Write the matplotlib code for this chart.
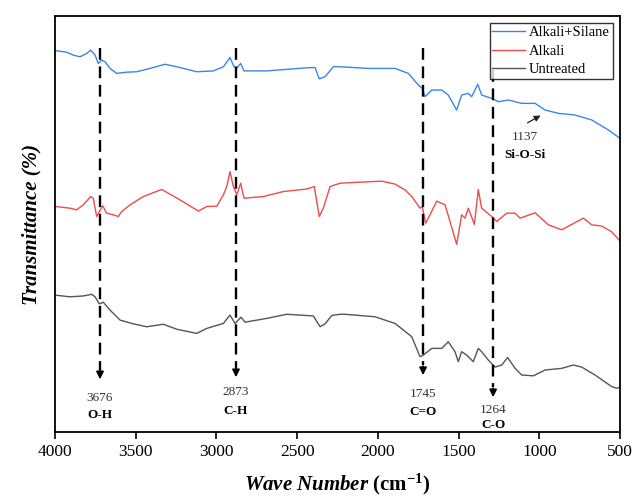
import numpy as np
import matplotlib
matplotlib.use("Agg")
import matplotlib.pyplot as plt

plt.rcParams['font.family'] = ['Liberation Serif', 'DejaVu Serif']
plt.rcParams['mathtext.fontset'] = 'custom'
plt.rcParams['mathtext.rm'] = 'Liberation Serif'
plt.rcParams['mathtext.it'] = 'Liberation Serif:italic'
plt.rcParams['mathtext.bf'] = 'Liberation Serif:bold'
plt.rcParams['mathtext.bfit'] = 'Liberation Serif:bold:italic'

# FTIR spectra (wavenumber, transmittance in arbitrary %)
silane_wn = [4000, 3928, 3887, 3845, 3804, 3779, 3752, 3732, 3711, 3690, 3659, 3618, 3556, 3494,
             3411, 3319, 3246, 3122, 3019, 2957, 2916, 2891, 2874, 2850, 2829, 2689, 2420, 2389,
             2363, 2327, 2276, 2234, 2059, 1894, 1811, 1749, 1725, 1708, 1666, 1604, 1564, 1512,
             1481, 1440, 1419, 1381, 1357, 1295, 1254, 1192, 1109, 1026, 964, 882, 779, 675, 572, 500]
silane_t = [91.7, 91.3, 90.6, 90.2, 91.0, 91.8, 90.6, 88.6, 89.4, 89.0, 87.4, 86.2, 86.5, 86.6,
            87.4, 88.4, 87.8, 86.6, 86.8, 87.8, 90.0, 87.8, 87.4, 88.6, 86.8, 86.8, 87.6, 87.6,
            84.9, 85.4, 87.8, 87.8, 87.4, 87.4, 86.2, 83.4, 82.6, 80.6, 82.2, 82.2, 81.0, 77.4,
            81.0, 81.4, 80.6, 83.6, 81.0, 80.2, 79.4, 79.8, 79.0, 79.0, 77.4, 76.6, 76.2, 75.0, 72.6, 70.6]

alkali_wn = [4000, 3949, 3907, 3866, 3825, 3779, 3763, 3742, 3705, 3680, 3639, 3608, 3587, 3535,
             3453, 3339, 3226, 3112, 3060, 2998, 2957, 2936, 2916, 2895, 2874, 2850, 2829, 2710,
             2586, 2441, 2394, 2363, 2338, 2296, 2234, 2141, 1976, 1894, 1832, 1790, 1739, 1725,
             1704, 1677, 1656, 1635, 1584, 1553, 1512, 1481, 1460, 1440, 1402, 1378, 1357, 1295,
             1264, 1202, 1150, 1119, 1026, 944, 861, 799, 727, 675, 613, 551, 500]
alkali_t = [54.2, 54.0, 53.8, 53.4, 54.6, 56.6, 56.2, 51.8, 54.4, 52.6, 52.2, 51.8, 53.0, 54.6,
            56.6, 58.3, 55.8, 53.1, 54.2, 54.3, 57.0, 59.0, 62.6, 59.0, 57.0, 59.8, 56.2, 56.6,
            57.8, 58.4, 59.0, 51.8, 53.8, 59.0, 59.8, 60.0, 60.3, 59.6, 58.2, 56.6, 53.8, 54.2,
            50.2, 52.2, 53.9, 55.5, 54.6, 50.6, 45.1, 52.2, 51.4, 53.8, 49.9, 58.3, 53.8, 51.8,
            50.6, 52.6, 52.6, 51.4, 52.7, 49.8, 48.6, 49.9, 51.4, 49.8, 49.5, 48.1, 45.9]

untreated_wn = [4000, 3907, 3825, 3773, 3752, 3726, 3701, 3659, 3597, 3515, 3432, 3329, 3246, 3122,
                3060, 2957, 2916, 2885, 2848, 2823, 2689, 2565, 2400, 2358, 2327, 2286, 2234, 2203,
                2018, 1894, 1790, 1739, 1718, 1666, 1604, 1564, 1522, 1502, 1481, 1450, 1409, 1378,
                1357, 1316, 1274, 1233, 1196, 1150, 1109, 1037, 964, 861, 789, 737, 655, 551, 520, 500]
untreated_t = [32.9, 32.5, 32.7, 33.1, 32.5, 30.8, 31.2, 29.3, 26.9, 26.0, 25.3, 25.9, 24.7, 23.7,
               24.9, 26.1, 28.1, 26.1, 27.6, 26.4, 27.3, 28.3, 27.9, 25.3, 26.0, 28.0, 28.3, 28.3,
               27.7, 26.1, 22.9, 18.1, 18.5, 20.1, 20.1, 21.7, 19.3, 16.9, 19.3, 18.5, 16.9, 20.1,
               19.3, 17.3, 15.6, 16.1, 17.9, 15.3, 13.7, 13.5, 14.9, 15.3, 16.1, 15.6, 13.7, 10.9, 10.5, 10.8]

# marked bands: line position, label number, group name, top and tip of arrow
band_pos = [3721, 2879, 1720, 1286]
band_num = ['3676', '2873', '1745', '1264']
band_name = ['O-H', 'C-H', 'C=O', 'C-O']
band_top = [92.3, 92.3, 92.3, 87.0]
band_tip = [12.0, 12.5, 13.0, 7.7]
band_num_y = [8.2, 9.6, 9.1, 5.3]
band_name_y = [4.1, 5.0, 4.8, 1.7]

fig = plt.figure(figsize=(6.33, 4.97), dpi=100)
ax = fig.add_axes([0.0869, 0.1308, 0.8926, 0.837])

ax.plot(silane_wn, silane_t, color='#3a86e8', lw=1.0, label='Alkali+Silane')
ax.plot(alkali_wn, alkali_t, color='#f04a4a', lw=1.0, label='Alkali')
ax.plot(untreated_wn, untreated_t, color='#555555', lw=1.0, label='Untreated')

for x, num, name, top, tip, ny, nmy in zip(band_pos, band_num, band_name, band_top, band_tip,
                                           band_num_y, band_name_y):
    ax.plot([x, x], [top, tip + 3], color='black', lw=1.7, linestyle=(0, (5, 2.8)))
    ax.annotate('', xy=(x, tip), xytext=(x, tip + 3.5),
                arrowprops=dict(arrowstyle='-|>', color='black', lw=1.2, mutation_scale=11))
    ax.text(x, ny, num, ha='center', va='center', fontsize=9.5, color='#333333')
    ax.text(x, nmy, name, ha='center', va='center', fontsize=9.5, fontweight='bold')

# Si-O-Si band on the silane curve
ax.annotate('', xy=(977, 76.4), xytext=(1088, 74.0),
            arrowprops=dict(arrowstyle='-|>', color='#222222', lw=0.9, mutation_scale=9))
ax.text(1088, 70.9, '1137', ha='center', va='center', fontsize=9.5, color='#333333')
ax.text(1088, 66.6, 'Si-O-Si', ha='center', va='center', fontsize=9.5, fontweight='bold')

ax.set_xlim(4000, 500)
ax.set_ylim(0, 100)
ax.set_xticks([4000, 3500, 3000, 2500, 2000, 1500, 1000, 500])
ax.set_yticks([])
ax.tick_params(axis='x', direction='out', length=5, width=1.2, labelsize=12.5, pad=4)
for s in ax.spines.values():
    s.set_linewidth(1.3)

ax.set_xlabel(r'$\mathbfit{Wave\ Number}$ $\mathbf{(cm^{-1})}$', fontsize=15, labelpad=8)
ax.set_ylabel('Transmittance (%)', fontsize=15, fontweight='bold', fontstyle='italic', labelpad=10)

leg = ax.legend(loc='upper right', fontsize=10.5, frameon=True, fancybox=False,
                edgecolor='black', handlelength=2.2, borderpad=0.2, labelspacing=0.35,
                handletextpad=0.3, borderaxespad=0.5)
leg.get_frame().set_linewidth(1.0)

fig.savefig('out.png', dpi=100)
